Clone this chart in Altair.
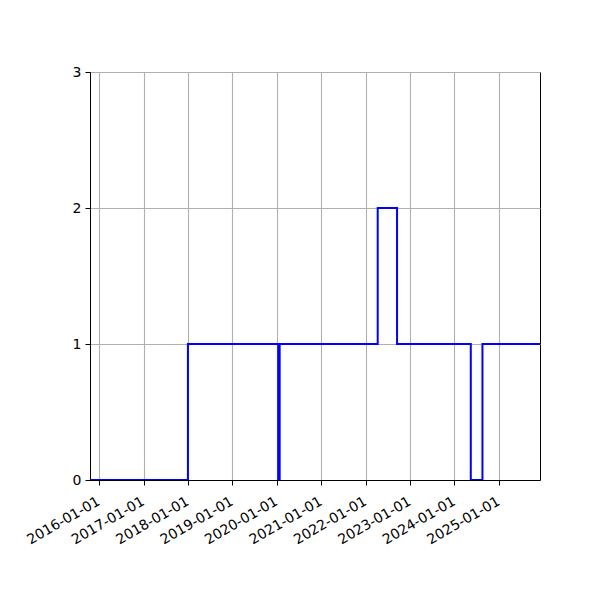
import pandas as pd
import altair as alt

# step changes (value holds until the next date)
dates = [
    "2015-09-01", "2018-01-01", "2020-01-13", "2020-01-25",
    "2022-04-10", "2022-09-16", "2024-05-14", "2024-08-18", "2026-03-01",
]
values = [0, 1, 0, 1, 2, 1, 0, 1, 1]
year_ticks = [f"{y}-01-01" for y in range(2016, 2026)]

df = pd.DataFrame({"date": pd.to_datetime(dates), "value": values})

font = "DejaVu Sans"

line = alt.Chart(df).mark_line(
    interpolate="step-after", color="#0000ff", strokeWidth=2, clip=True
).encode(
    x=alt.X("date:T", title=None,
            scale=alt.Scale(domain=["2015-10-19", "2025-12-04"]),
            axis=alt.Axis(values=year_ticks, format="%Y-%m-%d",
                          labelAngle=-30, labelAlign="right", labelBaseline="top",
                          labelFont=font, labelFontSize=14, labelColor="black",
                          labelPadding=9, labelOffset=-4, labelOverlap=False,
                          tickColor="black", tickSize=5, tickWidth=1,
                          domainColor="black", gridColor="#b0b0b0", gridWidth=1.1)),
    y=alt.Y("value:Q", title=None,
            scale=alt.Scale(domain=[0, 3], nice=False),
            axis=alt.Axis(values=[0, 1, 2, 3], format="d",
                          labelFont=font, labelFontSize=14, labelColor="black",
                          labelPadding=4,
                          tickColor="black", tickSize=5, tickWidth=1,
                          domainColor="black", gridColor="#b0b0b0", gridWidth=1.1)),
)

chart = line.properties(
    width=450, height=408,
    autosize=alt.AutoSizeParams(type="none"),
    padding={"left": 82, "top": 64, "right": 52, "bottom": 112},
    background="white",
).configure_view(stroke="black", strokeWidth=1)

chart.save("out.html", embed_options={"renderer": "svg", "actions": False})
